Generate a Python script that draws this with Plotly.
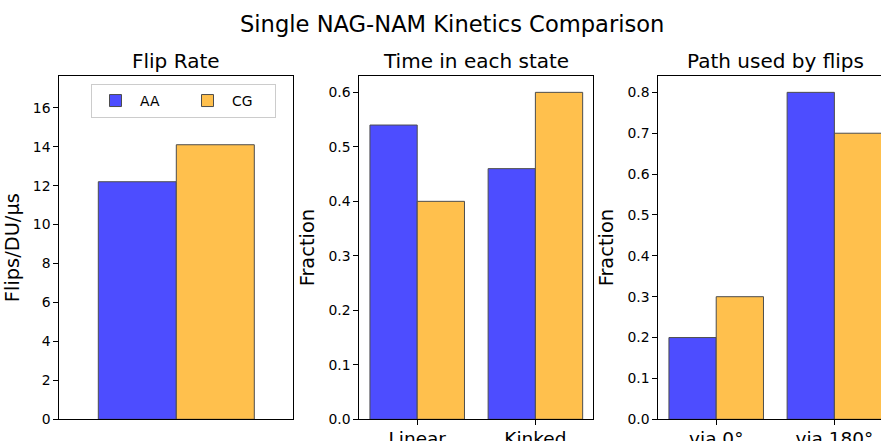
import plotly.graph_objects as go

# Canvas size in pixels
W, H = 881, 441

# ---- data ----
series = ["AA", "CG"]
fill_colors = ["#4d4dff", "#ffc04d"]
edge_color = "#4d4d4d"

flip_rate = [12.2, 14.1]                 # AA, CG

state_labels = ["Linear", "Kinked"]
state_aa = [0.54, 0.46]
state_cg = [0.40, 0.60]

path_labels = ["via 0°", "via 180°"]
path_aa = [0.20, 0.80]
path_cg = [0.30, 0.70]

panel_titles = ["Flip Rate", "Time in each state", "Path used by flips"]
y_titles = ["Flips/DU/µs", "Fraction", "Fraction"]
main_title = "Single NAG-NAM Kinetics Comparison"

FONT = "DejaVu Sans"


def fx(p):
    return p / W


def fy(p):
    return 1 - p / H


# panel frames in pixels (left, right)
panels_px = [(59.3, 293.3), (359.3, 593.3), (658.3, 881.0)]
top_px, bottom_px = 76.0, 419.3
y_dom = [fy(bottom_px), fy(top_px)]

fig = go.Figure()

bar_width = 0.4


def add_pair(xvals, aa, cg, ax, show):
    suffix = "" if ax == 1 else str(ax)
    for name, vals, col, off in [(series[0], aa, fill_colors[0], -bar_width),
                                 (series[1], cg, fill_colors[1], 0.0)]:
        fig.add_trace(go.Bar(
            x=xvals, y=vals, name=name, width=bar_width, offset=off,
            marker=dict(color=col, line=dict(color=edge_color, width=1)),
            xaxis="x" + suffix, yaxis="y" + suffix,
            showlegend=show, legendgroup=name,
        ))


add_pair([0], [flip_rate[0]], [flip_rate[1]], 1, True)
add_pair([0, 1], state_aa, state_cg, 2, False)
add_pair([0, 1], path_aa, path_cg, 3, False)

axis_common = dict(
    showline=True, linecolor="black", linewidth=1,
    ticks="outside", ticklen=5, tickwidth=1, tickcolor="black",
    showgrid=False, zeroline=False, automargin=False,
)

tick_font = dict(family=FONT, size=13.9, color="black")
cat_font = dict(family=FONT, size=18.5, color="black")
title_font = dict(family=FONT, size=19.4, color="black")
panel_title_font = dict(family=FONT, size=20, color="black")

layout = dict(
    width=W, height=H, autosize=False,
    margin=dict(l=0, r=0, t=0, b=0, pad=0),
    paper_bgcolor="white", plot_bgcolor="white",
    barmode="overlay", showlegend=True,
    font=dict(family=FONT, color="black"),
    legend=dict(
        orientation="h", x=fx(91), xanchor="left",
        y=fy(84), yanchor="top",
        bgcolor="white", bordercolor="#cccccc", borderwidth=1,
        font=dict(family=FONT, size=13.9, color="black"),
        entrywidth=38, itemwidth=39,
    ),
)

# Panel 1: single group, no x ticks
layout["xaxis"] = dict(axis_common, domain=[fx(panels_px[0][0]), fx(panels_px[0][1])],
                       range=[-0.6, 0.6], mirror=True, showticklabels=False, ticks="",
                       anchor="y")
layout["yaxis"] = dict(axis_common, domain=y_dom, range=[0, 17.63], dtick=2, tick0=0,
                       mirror=True, tickfont=tick_font, anchor="x",
                       title=dict(text=y_titles[0], font=title_font, standoff=8))

# Panel 2
layout["xaxis2"] = dict(axis_common, domain=[fx(panels_px[1][0]), fx(panels_px[1][1])],
                        range=[-0.49, 1.49], mirror=True, tickvals=[0, 1],
                        ticktext=state_labels, tickfont=cat_font, anchor="y2",
                        ticklabelstandoff=-3)
layout["yaxis2"] = dict(axis_common, domain=y_dom, range=[0, 0.63], dtick=0.1, tick0=0,
                        tickformat=".1f", mirror=True, tickfont=tick_font, anchor="x2",
                        title=dict(text=y_titles[1], font=title_font, standoff=8))

# Panel 3: right side runs off the canvas edge
right_val = -0.49 + (panels_px[2][1] - panels_px[2][0]) / (234.0 / 1.98)
layout["xaxis3"] = dict(axis_common, domain=[fx(panels_px[2][0]), 1.0],
                        range=[-0.49, right_val], mirror=True, tickvals=[0, 1],
                        ticktext=path_labels, tickfont=cat_font, anchor="y3",
                        ticklabelstandoff=-3)
layout["yaxis3"] = dict(axis_common, domain=y_dom, range=[0, 0.84], dtick=0.1, tick0=0,
                        tickformat=".1f", mirror=False, tickfont=tick_font, anchor="x3",
                        title=dict(text=y_titles[2], font=title_font, standoff=8))

annotations = [
    dict(text=main_title, x=fx(451.7), y=fy(39), xref="paper", yref="paper",
         xanchor="center", yanchor="bottom", showarrow=False,
         font=dict(family=FONT, size=22.6, color="black")),
]
centers = [176.3, 476.3, 775.3]
for t, c in zip(panel_titles, centers):
    annotations.append(dict(text=t, x=fx(c), y=fy(75), xref="paper", yref="paper",
                            xanchor="center", yanchor="bottom", showarrow=False,
                            font=panel_title_font))
layout["annotations"] = annotations

fig.update_layout(**layout)
fig.write_html("out.html")
